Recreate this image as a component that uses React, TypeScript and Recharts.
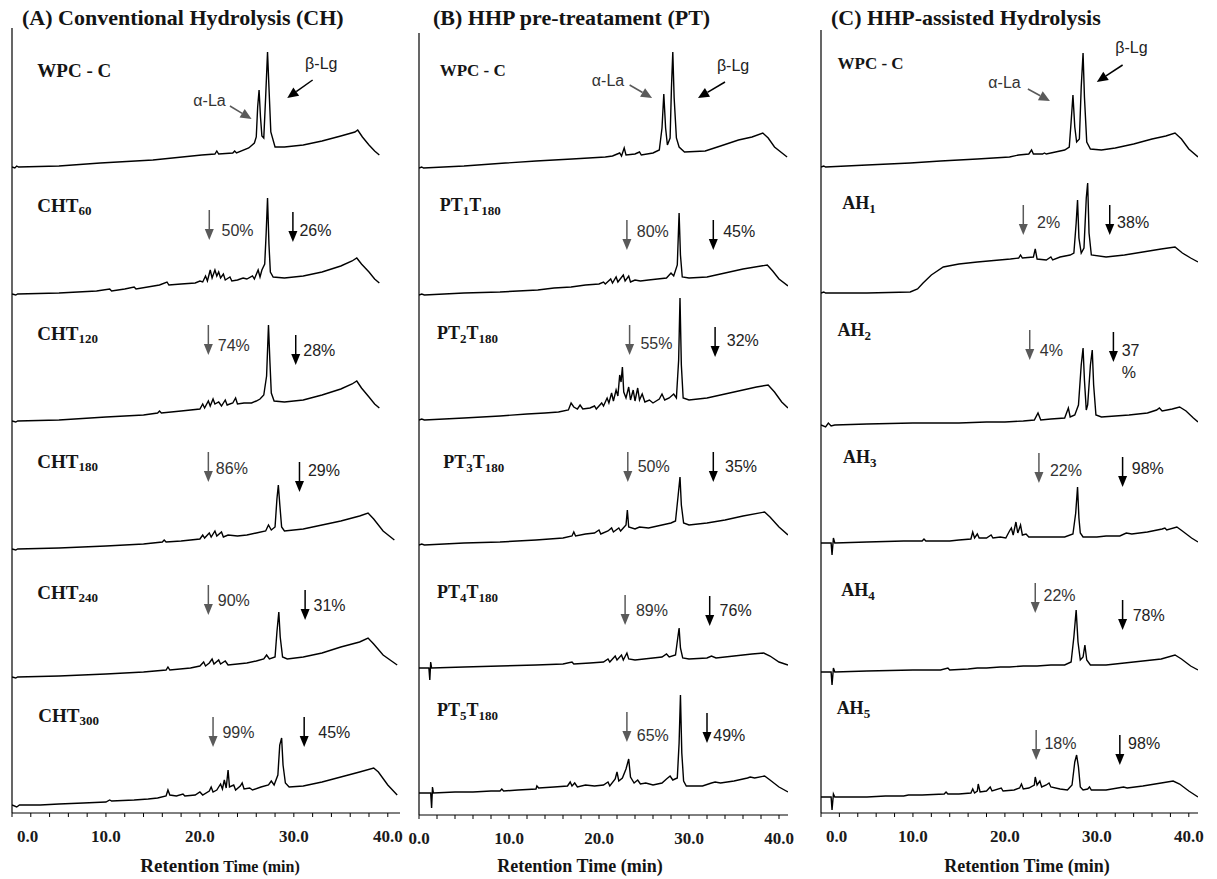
import React from 'react';
import { ComposedChart, Line, XAxis, YAxis, ReferenceLine, ReferenceDot } from 'recharts';

const SERIF = '"Liberation Serif", "DejaVu Serif", serif';
const SANS = '"Liberation Sans", Arial, sans-serif';

type Pt = [number, number];

// retention time (min), detector response (relative units above each trace's baseline)
const wpcA: Pt[] = [[0,0],[0.3,-1],[0.5,1],[0.7,0],[5,1],[9.4,4],[15,7],[20.2,12],[21.6,13],[21.8,16],[22.0,13],[23.5,14],[23.7,16],[23.9,14],[25.2,19],[25.8,24],[26.0,30],[26.15,60],[26.3,77],[26.45,50],[26.6,31],[26.8,29],[27.0,70],[27.2,115],[27.35,80],[27.55,35],[28.0,20],[29,20],[31,22],[33,26],[35,31],[36.5,35],[36.8,37],[37.3,30],[38,22],[38.6,16],[39.1,12]];
const cht60: Pt[] = [[0,0],[0.4,-1],[0.6,0],[5,1],[9,3],[10.4,5],[10.6,3],[12,5],[13,7],[13.2,5],[15.7,9],[16.5,12],[16.7,9],[18,10],[19.5,11],[20,13],[20.3,12],[20.6,18],[20.8,13],[21.1,24],[21.3,16],[21.6,24],[21.8,18],[22,22],[22.2,16],[22.5,20],[22.7,14],[23.2,17],[23.4,13],[24,14],[24.6,16],[25,15],[25.6,18],[25.8,15],[26.2,24],[26.4,17],[26.6,24],[26.9,30],[27.05,60],[27.2,96],[27.35,50],[27.5,22],[27.8,17],[29,16],[31,18],[33,22],[35,28],[36.2,33],[36.7,36],[37.2,30],[38,22],[38.6,15],[39.1,11]];
const cht120: Pt[] = [[0,0],[0.4,-1],[0.6,0],[5,1],[10,4],[14,6],[15.5,8],[15.7,10],[15.9,8],[18,10],[20,12],[20.3,17],[20.5,13],[20.9,20],[21.1,15],[21.4,22],[21.6,17],[22,19],[22.3,15],[22.7,21],[22.9,16],[23.5,18],[23.8,23],[24,17],[24.7,18],[25.5,18],[26,20],[26.4,22],[26.8,26],[27.1,45],[27.3,96],[27.45,60],[27.6,28],[27.9,20],[29,19],[31,21],[33,26],[35,32],[36.2,37],[36.7,40],[37.2,33],[38,24],[38.6,17],[39.1,13]];
const cht180: Pt[] = [[0,0],[0.4,-1],[0.6,0],[5,1],[10,3],[14,5],[16,7],[16.2,9],[16.4,7],[18,8],[20,10],[20.3,14],[20.5,11],[21,16],[21.2,12],[21.6,18],[21.8,13],[22.3,17],[22.5,12],[23,14],[24,13],[25,14],[26,16],[27,18],[27.3,24],[27.6,19],[28,22],[28.2,50],[28.35,64],[28.5,45],[28.7,22],[29,18],[31,20],[33,24],[35,28],[37,33],[37.9,36],[38.5,30],[39.5,18],[40.7,9]];
const cht240: Pt[] = [[0,0],[0.4,-1],[0.6,0],[5,1],[10,3],[14,5],[16.4,7],[16.6,10],[16.8,7],[19,9],[20,11],[20.4,15],[20.6,11],[21,14],[21.3,18],[21.5,13],[22,17],[22.2,13],[22.7,16],[23,12],[24,13],[25,14],[26,16],[26.8,18],[27.1,22],[27.4,18],[28,20],[28.2,45],[28.4,65],[28.55,40],[28.8,20],[29.3,18],[31,20],[33,24],[35,30],[37,35],[37.9,39],[38.5,33],[39.5,22],[41,12]];
const cht300: Pt[] = [[0,0],[0.5,-2],[0.8,0],[3,0],[5,1],[7.6,2],[10,3],[10.4,5],[10.6,4],[13,5],[14.5,6],[15.5,7],[16.4,9],[16.6,15],[16.8,10],[17.5,9],[18.2,11],[18.4,9],[19.5,10],[20,13],[20.3,10],[21,14],[21.2,18],[21.4,13],[21.8,15],[22.2,21],[22.4,16],[22.6,25],[22.8,17],[23,35],[23.15,18],[23.6,20],[23.8,15],[24.3,19],[24.5,22],[24.7,16],[25.3,17],[25.6,15],[26.5,18],[27.3,20],[27.6,24],[27.9,20],[28.3,30],[28.5,60],[28.7,67],[28.85,40],[29.1,22],[29.5,18],[31,19],[33,23],[35,28],[37,33],[38.5,37],[39,33],[40,20],[41,10]];

const wpcB: Pt[] = [[0,0],[0.3,1],[0.5,0],[5,2],[9.6,5],[13,7],[17,9],[20.7,11],[21.5,12],[22.3,15],[22.5,12],[22.8,20],[23,13],[24,14],[24.5,16],[24.7,13],[26,15],[26.7,18],[27.0,40],[27.2,74],[27.4,40],[27.6,23],[27.9,30],[28.05,80],[28.2,116],[28.35,70],[28.6,30],[28.9,21],[29.5,16],[31.8,17],[33.5,22],[35.5,28],[37,31],[38.2,35],[38.8,30],[39.5,21],[40.9,11]];
const pt1: Pt[] = [[0,0],[0.3,1],[0.6,0],[5,2],[9,3],[11,4],[13.2,5],[15,7],[16.9,8],[18.5,10],[20,11],[20.5,13],[20.7,11],[21.3,16],[21.5,12],[21.9,18],[22.1,13],[22.7,20],[22.9,14],[23.3,19],[23.5,13],[24,15],[24.6,14],[25.5,15],[26.5,16],[27.5,17],[28,22],[28.3,19],[28.7,30],[28.9,82],[29.05,40],[29.25,18],[30,17],[32,18],[34,22],[36,26],[38.7,30],[39.3,24],[40,16],[41,9]];
const pt2: Pt[] = [[0,0],[0.3,1],[0.6,0],[5,2],[9,4],[12,6],[14,7],[15.5,8],[16.6,10],[16.9,17],[17.2,13],[17.6,11],[17.9,15],[18.2,11],[19,12],[19.5,14],[19.7,11],[20.3,17],[20.5,14],[20.9,22],[21.1,17],[21.4,27],[21.6,19],[21.9,30],[22.1,24],[22.3,45],[22.45,38],[22.6,53],[22.75,28],[23.0,22],[23.3,33],[23.5,20],[23.8,30],[24,19],[24.3,32],[24.5,20],[24.8,26],[25.1,18],[25.6,20],[26,17],[26.7,21],[27,26],[27.3,20],[27.8,22],[28.3,26],[28.6,22],[28.85,60],[29.0,122],[29.15,55],[29.35,22],[30,20],[32,22],[34,26],[36,30],[37.5,33],[38.8,35],[39.5,28],[40.3,18],[41,12]];
const pt3: Pt[] = [[0,0],[0.3,1],[0.6,0],[5,2],[9,3],[13,5],[16,7],[17,9],[17.2,13],[17.4,9],[18.5,11],[19.5,12],[20,15],[20.2,11],[21,14],[21.4,17],[21.6,13],[22.2,17],[22.4,14],[23,20],[23.15,35],[23.3,18],[24,16],[24.5,18],[25.5,17],[26.5,19],[27.5,21],[28,22],[28.5,24],[28.8,50],[29.0,68],[29.15,40],[29.4,22],[30,20],[32,22],[34,25],[36,29],[38.4,33],[39,28],[40,18],[41,10]];
const pt4: Pt[] = [[0,0],[1.1,0],[1.2,-12],[1.3,6],[1.4,0],[5,1],[9,2],[13,3],[16,4],[17,6],[17.2,4],[19,5],[20.5,6],[21,9],[21.2,6],[21.8,12],[22,8],[22.5,13],[22.7,8],[23.1,15],[23.3,9],[24,8],[25,9],[26,10],[27,11],[27.5,14],[27.8,11],[28.5,13],[28.75,30],[28.9,40],[29.05,20],[29.3,10],[30,9],[32,10],[32.5,12],[33,10],[35,12],[37,14],[38.3,15],[39,12],[40,6],[41,3]];
const pt5: Pt[] = [[0,0],[1.3,0],[1.4,-15],[1.5,6],[1.6,0],[4,1],[6,1],[8,2],[9,2],[9.2,4],[9.4,2],[11,3],[13,4],[13.1,7],[13.3,5],[15,6],[16.5,7],[16.8,11],[17,7],[17.3,10],[17.6,6],[18.5,8],[19.5,7],[20.5,8],[21,11],[21.2,7],[21.8,14],[22,21],[22.2,12],[22.6,15],[23.0,24],[23.3,34],[23.5,16],[23.9,10],[24.3,13],[24.6,9],[25.2,10],[26,8],[27,10],[27.5,14],[27.9,17],[28.2,13],[28.7,15],[28.9,50],[29.05,98],[29.2,40],[29.4,12],[29.7,7],[31.5,7],[32.5,10],[32.9,11],[33.5,10],[35,12],[36.5,15],[36.8,16],[37.3,15],[38.4,17],[39,13],[40,6],[41,1]];

const wpcC: Pt[] = [[0,0],[0.3,1],[0.5,0],[5,2],[9.7,4],[13,6],[17,8],[20.5,10],[21.5,12],[22.6,13],[22.9,17],[23.1,13],[24.1,13],[24.3,14],[24.5,13],[25.5,15],[26.5,17],[27,20],[27.2,45],[27.4,72],[27.6,40],[27.8,25],[28.1,28],[28.3,80],[28.5,114],[28.65,70],[28.9,25],[29.3,18],[30.5,17],[32,19],[34,23],[36,28],[37.5,31],[38.5,34],[39.2,28],[40,18],[41,10]];
const ah1: Pt[] = [[0,0],[0.3,1],[0.5,0],[5,0],[9.7,1],[10.5,4],[11.1,10],[12,18],[13.3,26],[15,29],[17,31],[20.6,34],[21.5,35],[21.7,38],[21.9,35],[23.1,36],[23.3,44],[23.5,34],[24.5,33],[25,36],[25.2,33],[26,36],[27.1,38],[27.5,40],[27.75,70],[27.9,93],[28.05,55],[28.3,40],[28.6,45],[28.85,95],[29.0,110],[29.15,60],[29.4,38],[31,36],[33,38],[35,41],[37,44],[38.5,46],[39.3,40],[40.2,35],[41,31]];
const ah2: Pt[] = [[0,0],[0.5,-2],[0.8,2],[1.1,-1],[1.5,0],[5,1],[10,2],[15,2],[18,3],[20,3],[22,4],[23.2,5],[23.6,12],[23.9,5],[25,6],[26.5,7],[26.9,17],[27.1,8],[27.6,10],[28.0,20],[28.3,60],[28.5,77],[28.65,45],[28.85,15],[29.0,20],[29.3,60],[29.5,75],[29.65,40],[29.9,10],[30.5,8],[33.5,10],[35.5,12],[36.5,15],[36.8,17],[37.1,14],[38.2,16],[39,18],[39.7,14],[40.5,7],[41,3]];
const ah3: Pt[] = [[0,0],[1.1,0],[1.2,-12],[1.35,5],[1.5,0],[5,1],[9,2],[11,2],[11.2,4],[11.4,2],[14,2],[15,3],[16.3,4],[16.5,11],[16.7,5],[17,9],[17.2,5],[18,5],[18.5,8],[18.7,5],[19.5,6],[20.1,5],[20.5,12],[20.7,15],[20.9,8],[21.2,21],[21.4,10],[21.7,18],[21.9,8],[22.3,9],[22.6,6],[24,6],[25,6],[26.5,6],[27.4,9],[27.7,30],[27.9,56],[28.05,25],[28.2,10],[28.5,6],[30,6],[31,7],[32.5,7],[33.2,10],[33.8,9],[35.5,11],[37.1,14],[37.4,15],[37.6,13],[38.7,16],[39.3,12],[40.3,5],[41,1]];
const ah4: Pt[] = [[0,0],[1.1,0],[1.2,-13],[1.35,4],[1.5,0],[5,1],[10,2],[13,2],[13.8,4],[14,2],[16,3],[17,4],[18,4],[19.5,5],[20.5,5],[22,6],[23.5,6],[25,7],[26.5,7],[27.2,10],[27.5,35],[27.75,62],[27.95,30],[28.2,12],[28.5,15],[28.7,27],[28.9,12],[29.3,7],[31,7],[33,9],[35,11],[37,13],[38.5,17],[39.2,13],[40.2,6],[41,2]];
const ah5: Pt[] = [[0,0],[1.1,0],[1.2,-13],[1.35,3],[1.5,0],[5,0],[7,1],[9,1],[9.5,2],[11,2],[13.4,3],[13.6,5],[13.8,3],[15,3],[16.3,4],[16.5,8],[16.7,4],[17.0,6],[17.1,13],[17.3,5],[18,6],[18.4,10],[18.6,6],[19.6,9],[19.8,6],[21,7],[21.6,9],[21.8,13],[22,8],[22.6,9],[23.2,12],[23.3,20],[23.5,12],[23.8,16],[24,10],[24.5,12],[24.8,14],[25,10],[26,8],[26.8,7],[27.3,12],[27.6,35],[27.8,42],[28.0,30],[28.2,10],[28.5,7],[29,8],[29.2,10],[29.4,7],[31,7],[32.9,10],[33.3,9],[35,11],[37,14],[38.3,16],[39,13],[40,6],[41,0]];

// sample names: even entries normal text, odd entries subscripts
const namesA = [['WPC - C'], ['CHT', '60'], ['CHT', '120'], ['CHT', '180'], ['CHT', '240'], ['CHT', '300']];
const namesB = [['WPC - C'], ['PT', '1', 'T', '180'], ['PT', '2', 'T', '180'], ['PT', '3', 'T', '180'], ['PT', '4', 'T', '180'], ['PT', '5', 'T', '180']];
const namesC = [['WPC - C'], ['AH', '1'], ['AH', '2'], ['AH', '3'], ['AH', '4'], ['AH', '5']];

// % hydrolysis of alpha-La (left) and beta-Lg (right), rows 2-6
const pctA = [['50%', '26%'], ['74%', '28%'], ['86%', '29%'], ['90%', '31%'], ['99%', '45%']];
const pctB = [['80%', '45%'], ['55%', '32%'], ['50%', '35%'], ['89%', '76%'], ['65%', '49%']];
const pctC = [['2%', '38%'], ['4%', '37\n%'], ['22%', '98%'], ['22%', '78%'], ['18%', '98%']];

const xTicks = [0, 2, 4, 6, 8, 10, 12, 14, 16, 18, 20, 22, 24, 26, 28, 30, 32, 34, 36, 38, 40];

interface Col {
  title: string;
  left: number; width: number; plotLeft: number; plotRight: number;
  plotTop: number; plotBottom: number; xMax: number; zeroStart: boolean;
  baselines: number[];
  traces: Pt[][];
  names: string[][];
  nameSize: number;
  namePos: Pt[];
  pct: string[][];
  arrowPos: number[][]; // tGray, vGray, tBlack, vBlack
  pctPos: number[][];
  alpha: number[]; // text t,v, arrow t1,v1,t2,v2
  beta: number[];
  axisTitleX: number;
}

const columns: Col[] = [
  {
    title: '(A) Conventional Hydrolysis (CH)',
    left: 0, width: 410, plotLeft: 12, plotRight: 400, plotTop: 28, plotBottom: 813, xMax: 41.3, zeroStart: true,
    baselines: [167, 294, 421, 549, 677, 805],
    traces: [wpcA, cht60, cht120, cht180, cht240, cht300],
    names: namesA, nameSize: 19,
    namePos: [[2.7, 97], [2.7, 89], [2.7, 88], [2.7, 88], [2.7, 85], [2.8, 90]],
    pct: pctA,
    arrowPos: [[21.0, 84, 29.9, 82], [20.9, 96, 30.2, 86], [20.9, 97, 30.6, 87], [20.9, 92, 31.2, 87], [21.4, 88, 31.1, 88]],
    pctPos: [[22.3, 64, 30.6, 64], [21.9, 76, 31.0, 71], [21.7, 81, 31.5, 79], [21.9, 77, 32.1, 72], [22.4, 73, 32.6, 73]],
    alpha: [19.3, 67, 23.2, 61, 25.5, 48],
    beta: [31.2, 104, 32.0, 87, 29.3, 69],
    axisTitleX: 220,
  },
  {
    title: '(B) HHP pre-treatament (PT)',
    left: 405, width: 395, plotLeft: 419, plotRight: 788, plotTop: 33, plotBottom: 815, xMax: 41, zeroStart: false,
    baselines: [168, 295, 420, 545, 668, 793],
    traces: [wpcB, pt1, pt2, pt3, pt4, pt5],
    names: namesB, nameSize: 18,
    namePos: [[2.3, 98], [2.3, 90], [2.0, 87], [2.7, 83], [2.0, 76], [2.0, 83]],
    pct: pctB,
    arrowPos: [[23.1, 75, 32.7, 75], [23.4, 95, 32.9, 93], [23.2, 93, 32.7, 93], [22.9, 73, 32.3, 72], [23.1, 81, 32.0, 80]],
    pctPos: [[24.2, 64, 33.8, 64], [24.6, 77, 34.2, 80], [24.3, 79, 34.0, 79], [24.1, 58, 33.4, 58], [24.2, 58, 32.7, 58]],
    alpha: [19.2, 88, 23.4, 83, 25.9, 70],
    beta: [33.1, 103, 34.0, 86, 31.0, 70],
    axisTitleX: 580,
  },
  {
    title: '(C) HHP-assisted Hydrolysis',
    left: 810, width: 407, plotLeft: 821, plotRight: 1198, plotTop: 30, plotBottom: 813, xMax: 41, zeroStart: true,
    baselines: [167, 293, 425, 543, 672, 797],
    traces: [wpcC, ah1, ah2, ah3, ah4, ah5],
    names: namesC, nameSize: 18,
    namePos: [[1.8, 104], [2.3, 90], [1.8, 95], [2.4, 86], [2.2, 82], [1.7, 89]],
    pct: pctC,
    arrowPos: [[22.0, 88, 31.4, 88], [22.7, 95, 31.8, 93], [23.7, 90, 32.8, 86], [23.3, 89, 32.8, 72], [23.4, 67, 32.5, 62]],
    pctPos: [[23.5, 71, 32.2, 71], [23.8, 75, 32.7, 75], [24.9, 73, 33.8, 75], [24.2, 77, 33.9, 57], [24.3, 54, 33.4, 54]],
    alpha: [18.2, 85, 22.5, 78, 24.9, 66],
    beta: [32.0, 120, 32.8, 102, 30.0, 85],
    axisTitleX: 1027,
  },
];

const GRAY = '#5a5a5a';

function DownArrow({ cx, cy, color }: any) {
  return (
    <g>
      <line x1={cx} y1={cy} x2={cx} y2={cy + 21} stroke={color} strokeWidth={1.5} />
      <polygon points={`${cx - 4.5},${cy + 19} ${cx + 4.5},${cy + 19} ${cx},${cy + 30}`} fill={color} />
    </g>
  );
}

function slantArrow(color: string) {
  return (p: any) => {
    const { x1, y1, x2, y2 } = p;
    const a = Math.atan2(y2 - y1, x2 - x1);
    const bx = x2 - 11 * Math.cos(a);
    const by = y2 - 11 * Math.sin(a);
    const nx = -Math.sin(a) * 5;
    const ny = Math.cos(a) * 5;
    return (
      <g>
        <line x1={x1} y1={y1} x2={bx} y2={by} stroke={color} strokeWidth={1.5} />
        <polygon points={`${x2},${y2} ${bx + nx},${by + ny} ${bx - nx},${by - ny}`} fill={color} />
      </g>
    );
  };
}

function NameText({ cx, cy, parts, size }: any) {
  return (
    <text x={cx} y={cy} fontFamily={SERIF} fontWeight="bold" fontSize={size} fill="#151515" dominantBaseline="central">
      {parts.map((s: string, i: number) =>
        i % 2 === 0
          ? <tspan key={i} dy={i === 0 ? 0 : -5}>{s}</tspan>
          : <tspan key={i} fontSize={13} dy={5}>{s}</tspan>
      )}
    </text>
  );
}

function NoteText({ cx, cy, text, color }: any) {
  const lines = String(text).split('\n');
  return (
    <text x={cx} y={cy} fontFamily={SANS} fontSize={16} fill={color} dominantBaseline="central">
      {lines.map((l, i) => <tspan key={i} x={cx} dy={i === 0 ? 0 : 22}>{l}</tspan>)}
    </text>
  );
}

function Column({ c, idx }: { c: Col; idx: number }) {
  const H = 879;
  const xAxisH = 30;
  const plotH = c.plotBottom - c.plotTop;
  const XTick = (p: any) => {
    const v = p.payload.value;
    if (v % 10 !== 0) return <g />;
    const atZero = v === 0 && c.zeroStart;
    return (
      <text x={atZero ? p.x + 5 : p.x} y={p.y + 23} textAnchor={atZero ? 'start' : 'middle'}
        fontFamily={SERIF} fontWeight="bold" fontSize={17} fill="#1a1a1a">
        {v.toFixed(1)}
      </text>
    );
  };
  return (
    <div style={{ position: 'absolute', left: c.left, top: 0, width: c.width, height: H }}>
      <ComposedChart
        width={c.width}
        height={H}
        margin={{ top: c.plotTop, bottom: H - c.plotBottom - xAxisH, left: c.plotLeft - c.left, right: c.left + c.width - c.plotRight }}
      >
        <XAxis type="number" dataKey="t" domain={[0, c.xMax]} ticks={xTicks} interval={0} height={xAxisH}
          tickSize={4} axisLine={{ stroke: '#000' }} tickLine={{ stroke: '#000' }} tick={XTick} allowDataOverflow />
        {c.baselines.map((yb, i) => (
          <YAxis key={`y${i}`} yAxisId={`r${i}`} hide type="number"
            domain={[yb - c.plotTop - plotH, yb - c.plotTop]} allowDataOverflow />
        ))}
        <ReferenceLine yAxisId="r0" x={0} stroke="#000" strokeWidth={1.2} />
        {c.traces.map((tr, i) => (
          <Line key={`l${i}`} yAxisId={`r${i}`} data={tr.map(([t, v]) => ({ t, v }))} dataKey="v"
            type="linear" stroke="#000" strokeWidth={1.4} dot={false} activeDot={false} isAnimationActive={false} />
        ))}
        {c.names.map((parts, i) => (
          <ReferenceDot key={`n${i}`} yAxisId={`r${i}`} x={c.namePos[i][0]} y={c.namePos[i][1]} r={0}
            ifOverflow="visible"
            shape={(p: any) => <NameText cx={p.cx} cy={p.cy} parts={parts} size={i === 0 && idx > 0 ? 17 : c.nameSize} />} />
        ))}
        {c.pct.map((pair, k) => {
          const row = k + 1;
          const a = c.arrowPos[k];
          const q = c.pctPos[k];
          return [
            <ReferenceDot key={`ag${k}`} yAxisId={`r${row}`} x={a[0]} y={a[1]} r={0} ifOverflow="visible"
              shape={(p: any) => <DownArrow cx={p.cx} cy={p.cy} color={GRAY} />} />,
            <ReferenceDot key={`ab${k}`} yAxisId={`r${row}`} x={a[2]} y={a[3]} r={0} ifOverflow="visible"
              shape={(p: any) => <DownArrow cx={p.cx} cy={p.cy} color="#000" />} />,
            <ReferenceDot key={`pg${k}`} yAxisId={`r${row}`} x={q[0]} y={q[1]} r={0} ifOverflow="visible"
              shape={(p: any) => <NoteText cx={p.cx} cy={p.cy} text={pair[0]} color="#333" />} />,
            <ReferenceDot key={`pb${k}`} yAxisId={`r${row}`} x={q[2]} y={q[3]} r={0} ifOverflow="visible"
              shape={(p: any) => <NoteText cx={p.cx} cy={p.cy} text={pair[1]} color="#222" />} />,
          ];
        })}
        <ReferenceDot yAxisId="r0" x={c.alpha[0]} y={c.alpha[1]} r={0} ifOverflow="visible"
          shape={(p: any) => <NoteText cx={p.cx} cy={p.cy} text="α-La" color="#333" />} />
        <ReferenceLine yAxisId="r0" ifOverflow="visible" stroke={GRAY}
          segment={[{ x: c.alpha[2], y: c.alpha[3] }, { x: c.alpha[4], y: c.alpha[5] }]} shape={slantArrow(GRAY)} />
        <ReferenceDot yAxisId="r0" x={c.beta[0]} y={c.beta[1]} r={0} ifOverflow="visible"
          shape={(p: any) => <NoteText cx={p.cx} cy={p.cy} text="β-Lg" color="#222" />} />
        <ReferenceLine yAxisId="r0" ifOverflow="visible" stroke="#000"
          segment={[{ x: c.beta[2], y: c.beta[3] }, { x: c.beta[4], y: c.beta[5] }]} shape={slantArrow('#000')} />
      </ComposedChart>
    </div>
  );
}

export default function App() {
  return (
    <div style={{ position: 'absolute', left: 0, top: 0, width: 1217, height: 879, overflow: 'hidden', background: '#fff' }}>
      {columns.map((c, i) => (
        <Column key={i} c={c} idx={i} />
      ))}
      {columns.map((c, i) => (
        <div key={`t${i}`} style={{ position: 'absolute', left: c.plotLeft + (i === 1 ? 14 : 10), top: 7, whiteSpace: 'nowrap',
          fontFamily: SERIF, fontWeight: 'bold', fontSize: 22, lineHeight: '22px', color: '#141414' }}>
          {c.title}
        </div>
      ))}
      {columns.map((c, i) => (
        <div key={`x${i}`} style={{ position: 'absolute', left: c.axisTitleX - 150, width: 300, top: 855, textAlign: 'center',
          whiteSpace: 'nowrap', fontFamily: SERIF, fontWeight: 'bold', lineHeight: '22px', color: '#141414' }}>
          {i === 0
            ? <><span style={{ fontSize: 19 }}>Retention</span><span style={{ fontSize: 16 }}> Time (min)</span></>
            : <span style={{ fontSize: 18 }}>Retention Time (min)</span>}
        </div>
      ))}
    </div>
  );
}
